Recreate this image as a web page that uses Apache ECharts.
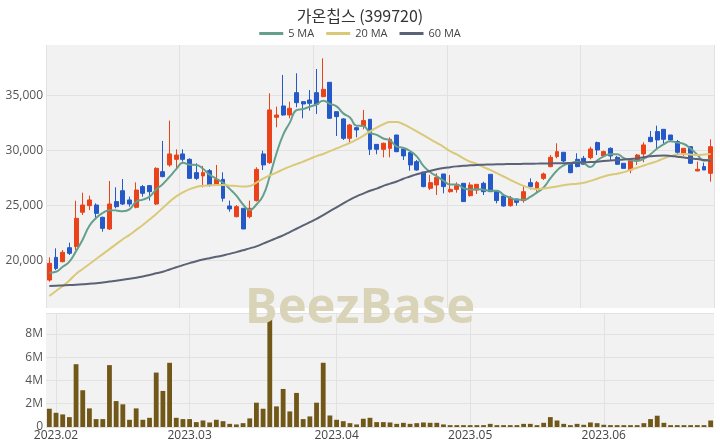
<!DOCTYPE html>
<html><head><meta charset="utf-8">
<script src="https://cdn.jsdelivr.net/npm/echarts@6/dist/echarts.min.js"></script>
<style>html,body{margin:0;padding:0;background:#fff}#c{width:720px;height:448px}</style>
</head><body><div id="c"></div>
<script>
const titleText = '가온칩스 (399720)';
const dates = ['2023-01-31',
'2023-02-01','2023-02-02','2023-02-03','2023-02-06','2023-02-07','2023-02-08','2023-02-09','2023-02-10','2023-02-13','2023-02-14','2023-02-15','2023-02-16','2023-02-17','2023-02-20','2023-02-21','2023-02-22','2023-02-23','2023-02-24','2023-02-27','2023-02-28',
'2023-03-02','2023-03-03','2023-03-06','2023-03-07','2023-03-08','2023-03-09','2023-03-10','2023-03-13','2023-03-14','2023-03-15','2023-03-16','2023-03-17','2023-03-20','2023-03-21','2023-03-22','2023-03-23','2023-03-24','2023-03-27','2023-03-28','2023-03-29','2023-03-30','2023-03-31',
'2023-04-03','2023-04-04','2023-04-05','2023-04-06','2023-04-07','2023-04-10','2023-04-11','2023-04-12','2023-04-13','2023-04-14','2023-04-17','2023-04-18','2023-04-19','2023-04-20','2023-04-21','2023-04-24','2023-04-25','2023-04-26','2023-04-27','2023-04-28',
'2023-05-02','2023-05-03','2023-05-04','2023-05-08','2023-05-09','2023-05-10','2023-05-11','2023-05-12','2023-05-15','2023-05-16','2023-05-17','2023-05-18','2023-05-19','2023-05-22','2023-05-23','2023-05-24','2023-05-25','2023-05-26','2023-05-30','2023-05-31',
'2023-06-01','2023-06-02','2023-06-05','2023-06-07','2023-06-08','2023-06-09','2023-06-12','2023-06-13','2023-06-14','2023-06-15','2023-06-16','2023-06-19','2023-06-20','2023-06-21','2023-06-22','2023-06-23','2023-06-26'];

const opens = [18240,20300,19910,21180,21280,24400,25000,25060,23940,22880,25370,26360,25520,24850,26730,26820,25150,28090,28700,29210,
29700,29210,28000,27700,28180,26940,27390,24970,24000,24760,24000,25460,29700,28910,33030,34060,33240,35270,34450,34600,
35270,34910,36210,33540,32880,31120,32090,32240,32850,30570,30120,30210,31420,30150,29820,29000,28060,26580,26880,27880,
26270,26480,27030,25910,26420,27030,27850,26360,25880,25000,25610,25460,27090,26480,27480,28550,29460,29850,28760,29210,
29300,29360,30730,29520,30210,29390,28850,28240,29150,29700,31210,31730,31940,31420,30820,29760,30360,28150,28550,27940];
const closes = [19760,19300,20760,20670,23850,25060,25520,24300,22940,25150,24910,25150,25150,26420,26120,26270,28390,27640,29700,29600,
29210,27480,27480,28000,26880,27390,25670,24700,24910,22880,24760,28300,28700,33700,33240,33240,33850,34360,34240,34300,
34210,35570,32940,33090,31120,32330,31880,32730,30120,30120,30670,31030,29910,29520,28700,28240,26730,27090,27550,26730,
26480,26820,25370,26880,26940,26270,26270,25460,24970,25670,25300,26270,26730,27090,27880,29390,29910,29060,28000,28550,
28760,30150,30060,29910,29520,28760,28390,29060,29600,30520,30820,30970,31030,30970,29850,30210,28850,28300,28240,30360];
const lows = [18090,19150,19850,20520,20970,24150,24600,23850,22640,22790,24760,25060,24910,24760,25820,25460,25060,27580,28540,28240,
29000,27450,27330,26670,26730,26880,25370,24450,23940,22880,23850,25370,28240,28790,32120,33180,32940,33940,32940,33640,
33330,34850,32880,31330,30970,30730,31210,31940,29600,29670,29390,29390,29850,29150,28180,28180,26670,26420,25970,26120,
26180,26180,25370,25820,26060,25970,26270,25210,24910,24910,25000,25270,26480,26270,27330,28490,29300,28940,27940,28490,
28700,29210,29600,29460,29150,28700,28390,27940,28700,28940,30760,30060,30610,30910,29700,29520,28790,28150,28240,27180];
const highs = [20300,21120,20970,21640,25450,26180,25910,25210,24000,27240,26670,27420,25820,27120,26880,26880,28490,30880,32730,30120,
30120,29300,28850,28610,28330,28700,28030,25460,25060,24760,25460,28490,30000,35210,34000,36880,34450,37030,34510,35510,
37420,38390,36210,33540,32940,32420,32180,33700,32850,30570,30730,31210,31420,30150,29910,29150,28060,27790,27940,27880,
27790,27120,27030,27120,26940,27180,27850,26360,25970,25880,25610,26790,27480,27240,28000,29600,30670,29850,28760,29760,
29520,30360,30820,30000,30300,29520,28850,29300,29700,30760,31790,32270,31940,31420,30970,30210,30420,29000,28910,31030];
const ma5 = [18910,19000,19450,19910,20868,21928,23172,23880,24334,24594,24564,24490,24660,25356,25550,25822,26470,26968,27624,28320,
28908,28726,28694,28354,27810,27446,27084,26528,25910,25110,24584,25110,25910,27668,29740,31436,32546,33678,33786,33998,
34192,34536,34252,34022,33386,33010,32272,32230,31636,31436,31104,30934,30370,30250,29966,29480,28620,28056,27662,27268,
26916,26934,26590,26456,26498,26456,26346,26364,25982,25728,25534,25534,25788,26212,26654,27472,28200,28666,28848,28982,
28856,28504,29104,29486,29680,29680,29328,29128,29066,29266,29678,30194,30588,30862,30728,30606,30182,29636,29090,29192];
const ma20 = [16790,17250,17700,18200,18800,19250,19700,20150,20600,21050,21500,21950,22350,22800,23250,23750,24250,24800,25350,25850,
26200,26500,26700,26800,26850,26880,26870,26820,26780,26730,26780,27100,27450,27750,28000,28300,28550,28780,29000,29250,
29500,29700,29950,30200,30450,30700,31000,31350,31750,32100,32400,32600,32600,32400,32100,31750,31400,31050,30700,30350,
29950,29650,29300,29000,28800,28500,28250,27950,27650,27350,27050,26800,26600,26500,26550,26650,26750,26850,26950,27000,
27080,27250,27450,27650,27800,27900,28050,28250,28450,28650,28850,29050,29300,29500,29650,29700,29650,29600,29650,29700];
const ma60 = [17700,17720,17750,17780,17820,17850,17900,17950,18020,18100,18180,18270,18350,18450,18570,18700,18850,19000,19200,19400,
19600,19780,19950,20100,20230,20350,20480,20620,20780,20950,21120,21300,21550,21800,22050,22300,22600,22900,23200,23500,
23800,24150,24500,24850,25200,25550,25850,26100,26350,26550,26800,27000,27200,27450,27650,27850,28000,28150,28300,28420,
28500,28570,28630,28670,28700,28720,28740,28760,28770,28780,28790,28800,28810,28820,28830,28840,28850,28860,28880,28900,
28930,28960,29000,29050,29100,29150,29200,29230,29300,29400,29480,29530,29550,29520,29450,29380,29300,29230,29150,29090];
const volumes = [1.57,1.22,1.08,0.85,5.40,3.16,1.60,0.68,0.68,5.32,2.23,1.95,0.62,1.60,0.62,0.79,4.68,3.10,5.52,0.79,
0.68,0.68,0.42,0.56,0.39,0.62,0.50,0.27,0.22,0.33,0.74,2.09,1.57,9.27,1.77,3.27,1.34,2.93,0.68,0.91,
2.09,5.52,0.99,0.62,0.50,0.33,0.22,0.71,0.79,0.42,0.42,0.39,0.27,0.36,0.27,0.33,0.39,0.36,0.36,0.22,
0.16,0.16,0.16,0.16,0.16,0.16,0.27,0.16,0.16,0.16,0.16,0.27,0.27,0.16,0.36,0.85,0.56,0.27,0.16,0.27,
0.19,0.39,0.33,0.19,0.16,0.16,0.16,0.16,0.16,0.33,0.68,0.97,0.36,0.16,0.16,0.16,0.16,0.16,0.16,0.56];
const priceTicks = [20000,25000,30000,35000];
const legendNames = ['5 MA','20 MA','60 MA'];

const candleData = dates.map((d,i)=>[opens[i],closes[i],lows[i],highs[i]]);
const volData = volumes.map(v=>v*1e6);
const monthStart = dates.map((d,i)=> i>0 && d.slice(0,7)!==dates[i-1].slice(0,7));
const monthInterval = (idx)=> monthStart[idx];

const FONT = 'Open Sans';
const chart = echarts.init(document.getElementById('c'), null, {renderer:'canvas'});
chart.setOption({
  animation:false,
  backgroundColor:'#ffffff',
  title:{text:titleText,left:'center',top:3,textStyle:{fontSize:16,fontWeight:'normal',color:'#333',fontFamily:'Noto Sans CJK KR'}},
  legend:{data:legendNames,top:23,left:'center',icon:'rect',itemWidth:24,itemHeight:3,itemGap:12,
    textStyle:{fontSize:11,color:'#444',fontFamily:FONT}},
  graphic:[{type:'text',left:'center',top:285,z:100,style:{text:'BeezBase',font:'bold 49px "Open Sans"',fill:'#d9d3b7'}}],
  grid:[
    {left:46,right:6,top:45,height:263,show:true,backgroundColor:'#f2f2f2',borderWidth:0},
    {left:46,right:6,top:313,height:114,show:true,backgroundColor:'#f2f2f2',borderWidth:0}
  ],
  xAxis:[
    {type:'category',gridIndex:0,data:dates,boundaryGap:true,axisLine:{show:false},axisTick:{show:false},axisLabel:{show:false},
     splitLine:{show:true,interval:19,lineStyle:{color:'#e2e2e2',width:1}}},
    {type:'category',gridIndex:1,data:dates,boundaryGap:true,axisLine:{show:false},
     axisTick:{show:false,interval:monthInterval,alignWithLabel:true},
     axisLabel:{interval:monthInterval,margin:3,fontSize:12,color:'#444',fontFamily:FONT,formatter:v=>v.slice(0,7).replace('-','.')},
     splitLine:{show:true,interval:monthInterval,alignWithLabel:true,lineStyle:{color:'#e2e2e2',width:1}}}
  ],
  yAxis:[
    {type:'value',gridIndex:0,min:15700,max:39600,axisLine:{show:false},axisTick:{show:false,customValues:priceTicks},
     axisLabel:{customValues:priceTicks,margin:3,fontSize:12,color:'#555',fontFamily:FONT,formatter:v=>v.toLocaleString('en-US')},
     splitLine:{show:true,lineStyle:{color:'#e2e2e2'}}},
    {type:'value',gridIndex:1,min:0,max:9.8e6,interval:2e6,axisLine:{show:false},axisTick:{show:false},
     axisLabel:{showMaxLabel:false,margin:3,fontSize:12,color:'#555',fontFamily:FONT,formatter:v=>v===0?'0':(v/1e6)+'M'},
     splitLine:{show:true,lineStyle:{color:'#e2e2e2'}}}
  ],
  series:[
    {type:'candlestick',name:'price',xAxisIndex:0,yAxisIndex:0,data:candleData,barWidth:'66%',
     itemStyle:{color:'#ea4219',color0:'#2559c7',borderColor:'#ea4219',borderColor0:'#2559c7',borderWidth:1}},
    {type:'line',name:'5 MA',xAxisIndex:0,yAxisIndex:0,data:ma5,smooth:true,symbol:'none',z:3,
     lineStyle:{color:'#64a08b',width:2},itemStyle:{color:'#64a08b'}},
    {type:'line',name:'20 MA',xAxisIndex:0,yAxisIndex:0,data:ma20,smooth:true,symbol:'none',z:3,
     lineStyle:{color:'#dac978',width:2},itemStyle:{color:'#dac978'}},
    {type:'line',name:'60 MA',xAxisIndex:0,yAxisIndex:0,data:ma60,smooth:true,symbol:'none',z:3,
     lineStyle:{color:'#5b6276',width:2},itemStyle:{color:'#5b6276'}},
    {type:'bar',name:'volume',xAxisIndex:1,yAxisIndex:1,data:volData,barWidth:'72%',itemStyle:{color:'#715818'}}
  ]
});
</script></body></html>
